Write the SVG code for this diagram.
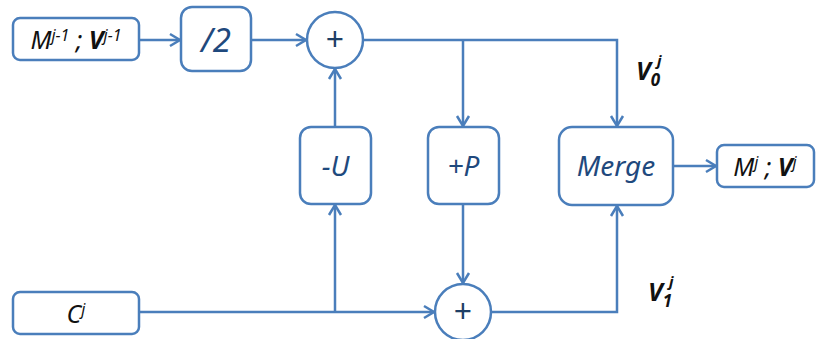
<svg xmlns="http://www.w3.org/2000/svg" width="817" height="339" viewBox="0 0 817 339">
<style>
.box{fill:#fff;stroke:#4a7ebb;stroke-width:2.5}
.ln{fill:none;stroke:#4a7ebb;stroke-width:2.5}
.op{font-family:"Noto Sans","Open Sans",sans-serif;font-style:italic;fill:#1f497d;text-anchor:middle}
.lb{font-family:"Noto Sans","Open Sans",sans-serif;font-style:italic;fill:#111;text-anchor:middle}
.vl{font-family:"Noto Sans","Open Sans",sans-serif;font-style:italic;font-weight:bold;fill:#111;text-anchor:start}
.pl{font-family:"Noto Sans","Open Sans",sans-serif;fill:#1f3f66;font-size:32px;text-anchor:middle}
</style>
<defs>
<marker id="ar" markerUnits="userSpaceOnUse" markerWidth="16" markerHeight="16" viewBox="0 0 16 16" refX="14" refY="8" orient="auto">
<path d="M4,2 L14,8 L4,14" fill="none" stroke="#4a7ebb" stroke-width="2.5"/>
</marker>
</defs>
<g id="connectors">
<line class="ln" x1="139" y1="40" x2="180" y2="40" marker-end="url(#ar)"/>
<line class="ln" x1="251" y1="40" x2="306" y2="40" marker-end="url(#ar)"/>
<polyline class="ln" points="363,40 617,40 617,126" marker-end="url(#ar)"/>
<line class="ln" x1="463" y1="40" x2="463" y2="126" marker-end="url(#ar)"/>
<line class="ln" x1="335" y1="127" x2="335" y2="69" marker-end="url(#ar)"/>
<line class="ln" x1="673" y1="166" x2="716" y2="166" marker-end="url(#ar)"/>
<line class="ln" x1="139" y1="312" x2="434" y2="312" marker-end="url(#ar)"/>
<line class="ln" x1="335" y1="312" x2="335" y2="205" marker-end="url(#ar)"/>
<line class="ln" x1="463" y1="204" x2="463" y2="283" marker-end="url(#ar)"/>
<polyline class="ln" points="491,312 617,312 617,206" marker-end="url(#ar)"/>
</g>
<g id="in1">
<rect class="box" x="13" y="18" width="126" height="42" rx="7"/>
<text class="lb" x="76" y="49" font-size="25">M<tspan font-size="16" dy="-8">j-1</tspan><tspan dy="8"> ; </tspan><tspan font-weight="bold">V</tspan><tspan font-size="16" dy="-8">j-1</tspan></text>
</g>
<g id="half">
<rect class="box" x="181" y="7" width="70" height="64" rx="11"/>
<text class="op" x="216" y="52" font-size="33">/2</text>
</g>
<g id="sum1">
<circle class="box" cx="335" cy="40" r="28"/>
<text class="pl" x="335" y="51">+</text>
</g>
<g id="minusU">
<rect class="box" x="300" y="127" width="71" height="77" rx="11"/>
<text class="op" x="335.5" y="176" font-size="28">-U</text>
</g>
<g id="plusP">
<rect class="box" x="428" y="127" width="71" height="77" rx="11"/>
<text class="op" x="463.5" y="176" font-size="28">+P</text>
</g>
<g id="merge">
<rect class="box" x="559" y="127" width="114" height="78" rx="13"/>
<text class="op" x="616" y="176" font-size="28">Merge</text>
</g>
<g id="out">
<rect class="box" x="717" y="145" width="97" height="42" rx="7"/>
<text class="lb" x="765" y="176" font-size="25">M<tspan font-size="16" dy="-8">j</tspan><tspan dy="8"> ; </tspan><tspan font-weight="bold">V</tspan><tspan font-size="16" dy="-8">j</tspan></text>
</g>
<g id="cin">
<rect class="box" x="13" y="292" width="126" height="42" rx="7"/>
<text class="lb" x="76" y="323" font-size="25">C<tspan font-size="16" dy="-8">j</tspan></text>
</g>
<g id="sum2">
<circle class="box" cx="463" cy="312" r="28"/>
<text class="pl" x="463" y="323">+</text>
</g>
<g id="v0">
<text class="vl" x="636" y="80" font-size="25">V<tspan font-size="17" dy="6">0</tspan></text>
<text class="vl" x="657" y="66" font-size="15">j</text>
</g>
<g id="v1">
<text class="vl" x="648" y="301" font-size="25">V<tspan font-size="17" dy="6">1</tspan></text>
<text class="vl" x="669" y="287" font-size="15">j</text>
</g>
</svg>
